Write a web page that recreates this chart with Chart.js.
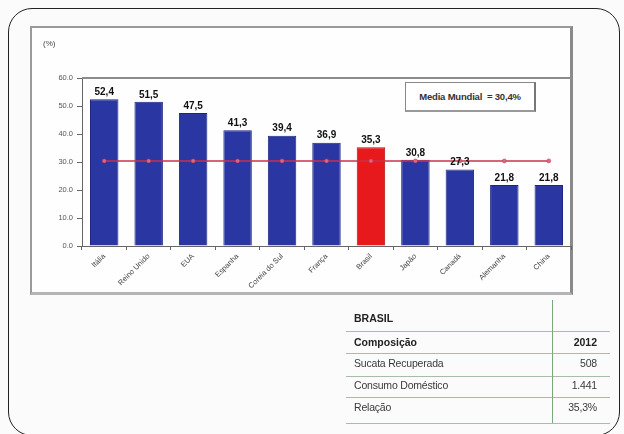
<!DOCTYPE html>
<html><head><meta charset="utf-8">
<script src="https://cdn.jsdelivr.net/npm/chart.js@4.4.0/dist/chart.umd.min.js"></script>
<style>
html,body{margin:0;padding:0;background:#fbfbfb;width:624px;height:434px;overflow:hidden;font-family:"Liberation Sans",Arial,sans-serif;}
#outer{position:absolute;left:8px;top:8px;width:612px;height:428px;border:1.5px solid #222;border-radius:24px;box-sizing:border-box;}
#box{position:absolute;left:30px;top:26px;width:543px;height:269px;border:2px solid #9a9a9a;border-right:3px solid #8a8a8a;border-bottom:3px solid #b5b5b5;box-sizing:border-box;background:#fefefe;}
#cv{position:absolute;left:0;top:0;}
#pct{position:absolute;left:43px;top:39px;font-size:8px;color:#444;}
#leg{position:absolute;left:405px;top:82px;width:131px;height:30px;border:1.5px solid #888;border-right:2px solid #777;border-bottom:2px solid #999;box-sizing:border-box;background:#fff;font-size:9.5px;font-weight:bold;color:#333;display:flex;align-items:center;justify-content:center;letter-spacing:-0.2px;}
.tx{position:absolute;font-size:10.5px;color:#3a3a3a;letter-spacing:-0.2px;}
.b{font-weight:bold;color:#222;font-size:10.5px;letter-spacing:0;}
.hl{position:absolute;left:346px;width:264px;height:1px;background:#a9bba9;}
</style></head>
<body>
<div id="outer"></div>
<div id="box"></div>
<canvas id="cv" width="624" height="434"></canvas>
<div id="pct">(%)</div>
<div id="leg">Media Mundial&nbsp; = 30,4%</div>
<div id="tbl"></div>
<script>
const categories = ["Itália","Reino Unido","EUA","Espanha","Coreia do Sul","França","Brasil","Japão","Canadá","Alemanha","China"];
const recycleShare = [52.4,51.5,47.5,41.3,39.4,36.9,35.3,30.8,27.3,21.8,21.8];
const worldAverage = 30.4;
const highlightCategory = "Brasil";
const yTicks = [0,10,20,30,40,50,60];
const tableRows = [["BRASIL",""],["Composição","2012"],["Sucata Recuperada","508"],["Consumo Doméstico","1.441"],["Relação","35,3%"]];

// table
const tbl = document.getElementById('tbl');
const rowY = [312,336,357,379,401];
const lineY = [331,353,376,397,423];
tableRows.forEach((r,i)=>{
  const bold = i<2;
  const a=document.createElement('div');a.className='tx'+(bold?' b':'');a.style.left='354px';a.style.top=rowY[i]+'px';a.textContent=r[0];tbl.appendChild(a);
  if(r[1]){const c=document.createElement('div');c.className='tx'+(bold?' b':'');c.style.right=(624-597)+'px';c.style.top=rowY[i]+'px';c.textContent=r[1];tbl.appendChild(c);}
});
lineY.forEach(y=>{const l=document.createElement('div');l.className='hl';l.style.top=y+'px';tbl.appendChild(l);});
const v=document.createElement('div');v.style.cssText='position:absolute;left:552px;top:300px;width:1px;height:123px;background:#7aa87a;';tbl.appendChild(v);

const fmt = n => n.toFixed(1).replace('.',',');
const labelPlugin = {
  id:'lbl',
  afterDatasetsDraw(chart){
    const ctx=chart.ctx; const meta=chart.getDatasetMeta(1);
    ctx.save(); ctx.font='bold 10px "Liberation Sans", Arial'; ctx.fillStyle='#111'; ctx.textAlign='center'; ctx.textBaseline='bottom';
    meta.data.forEach((b,i)=>{ctx.fillText(fmt(recycleShare[i]), b.x, b.y-2);});
    const a=chart.chartArea;
    ctx.strokeStyle='#8c8c8c'; ctx.lineWidth=2;
    ctx.beginPath(); ctx.moveTo(a.left,a.top); ctx.lineTo(572,a.top); ctx.stroke();
    ctx.restore();
  }
};
new Chart(document.getElementById('cv'),{
  data:{labels:categories,datasets:[
    {type:'line',data:categories.map(()=>worldAverage),borderColor:'#c8304e',borderWidth:1.5,pointRadius:2,pointBackgroundColor:'#d86a80',pointBorderColor:'#c8304e',pointBorderWidth:0.5,order:0},
    {type:'bar',data:recycleShare,backgroundColor:categories.map(c=>c===highlightCategory?'#e8191c':'#2a37a2'),borderColor:categories.map(c=>c===highlightCategory?'#b01010':'#1c2580'),borderWidth:1,barPercentage:0.64,categoryPercentage:1,order:1}
  ]},
  options:{
    responsive:false,animation:false,
    layout:{padding:{left:38,right:53,top:78,bottom:132}},
    plugins:{legend:{display:false},tooltip:{enabled:false}},
    scales:{
      x:{offset:true,grid:{offset:true,drawOnChartArea:false,tickLength:4,color:'#666'},border:{color:'#666',width:1},
         ticks:{minRotation:45,maxRotation:45,color:'#444',font:{size:7.5,family:'"Liberation Sans", Arial'},padding:2},
         afterFit(s){s.height=56;}},
      y:{min:0,max:60,grid:{drawOnChartArea:false,tickLength:5,color:'#666'},border:{color:'#666',width:1},
         afterBuildTicks(s){s.ticks=yTicks.map(v=>({value:v}));},
         ticks:{color:'#555',font:{size:7.5,family:'"Liberation Sans", Arial'},padding:4,callback:v=>v.toFixed(1)},
         afterFit(s){s.width=44;}}
    }
  },
  plugins:[labelPlugin]
});
</script>
</body></html>
